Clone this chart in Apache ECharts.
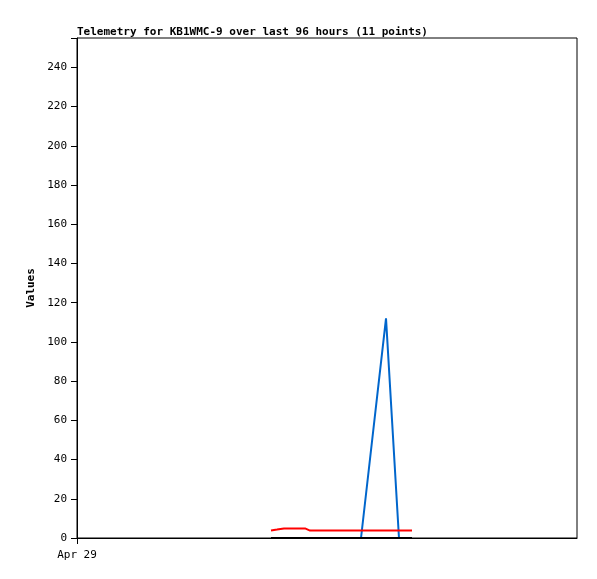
<!DOCTYPE html>
<html><head><meta charset="utf-8">
<script src="https://cdn.jsdelivr.net/npm/echarts@6/dist/echarts.min.js"></script>
<style>html,body{margin:0;padding:0;background:#fff}#c{width:597px;height:579px}</style>
</head><body><div id="c"></div>
<script>
// hours since Apr 29 00:00
var hours = [37.25, 38.4, 39.74, 41.86, 43.78, 44.74, 49.54, 54.53, 59.33, 61.82, 64.32];
var blueValues = [0, 0, 0, 0, 0, 0, 0, 0, 112, 0, 0];
var redValues = [3.8, 4.3, 4.9, 4.9, 4.9, 3.8, 3.8, 3.8, 3.8, 3.8, 3.8];
var blackValues = [0, 0, 0, 0, 0, 0, 0, 0, 0, 0, 0];
var xTickLabels = ['Apr 29'];
var titleText = 'Telemetry for KB1WMC-9 over last 96 hours (11 points)';

function pairs(v){ return hours.map(function(h,i){return [h, v[i]];}); }
var font = 'DejaVu Sans Mono';
var chart = echarts.init(document.getElementById('c'));
chart.setOption({
  animation: false,
  title: {text: titleText, left: 72, top: 22, textStyle: {fontFamily: font, fontSize: 11, fontWeight: 'bold', color: '#000'}},
  grid: {left: 77, top: 38, width: 500, height: 500, show: true, borderColor: '#000', borderWidth: 1, backgroundColor: '#fff'},
  xAxis: {type: 'value', min: 0, max: 96, interval: 96,
    axisLine: {show: true, lineStyle: {color: '#000'}},
    axisTick: {show: true, length: 6, customValues: [0], lineStyle: {color: '#000'}},
    splitLine: {show: false},
    axisLabel: {fontFamily: font, fontSize: 11, color: '#000', margin: 12, customValues: [0],
      formatter: function(v){ return v === 0 ? xTickLabels[0] : ''; }}
  },
  yAxis: {type: 'value', min: 0, max: 255, interval: 20, name: 'Values', nameLocation: 'middle', nameGap: 39,
    nameTextStyle: {fontFamily: font, fontSize: 11, fontWeight: 'bold', color: '#000'},
    axisLine: {show: true, lineStyle: {color: '#000'}},
    axisTick: {show: true, length: 6, lineStyle: {color: '#000'}},
    splitLine: {show: false},
    axisLabel: {fontFamily: font, fontSize: 11, color: '#000', margin: 10,
      formatter: function(v){ return v % 20 === 0 ? String(v) : ''; }}
  },
  series: [
    {type: 'line', data: pairs(blueValues), symbol: 'none', lineStyle: {color: '#0066cc', width: 2}},
    {type: 'line', data: pairs(redValues), symbol: 'none', lineStyle: {color: '#ff0000', width: 2}},
    {type: 'line', data: pairs(blackValues), symbol: 'none', lineStyle: {color: '#000000', width: 2}}
  ]
});
</script></body></html>
